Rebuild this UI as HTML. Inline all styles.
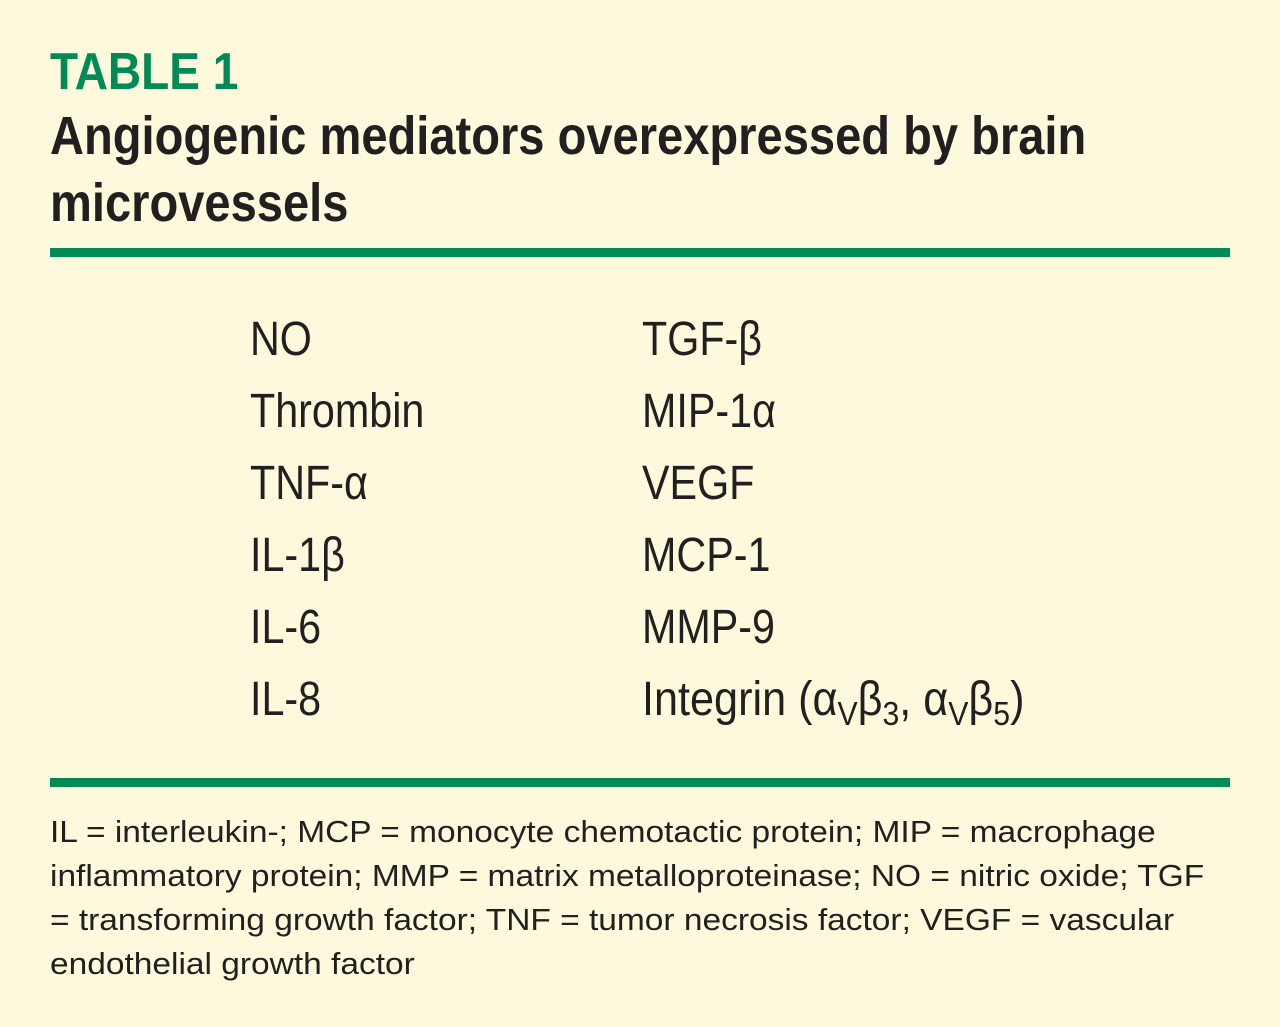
<!DOCTYPE html>
<html><head><meta charset="utf-8"><style>
html,body{margin:0;padding:0}
body{width:1280px;height:1027px;background:#fdf9dc;position:relative;overflow:hidden;font-family:"Liberation Sans",sans-serif;color:#231f20}
.t{position:absolute;white-space:nowrap;transform-origin:0 0;line-height:1}
.rule{position:absolute;left:50px;width:1180px;height:9px;background:#008a55}
.b{font-weight:bold}
sub{font-size:0.7em;vertical-align:-0.3em}
</style></head><body>
<div class="t b" style="left:50px;top:46px;font-size:52px;color:#008a55;transform:scaleX(0.885)">TABLE 1</div>
<div class="t b" style="left:50px;top:109px;font-size:54px;transform:scaleX(0.872)">Angiogenic mediators overexpressed by brain</div>
<div class="t b" style="left:50px;top:176px;font-size:54px;transform:scaleX(0.872)">microvessels</div>
<div class="rule" style="top:248px"></div>

<div class="t" style="left:250px;top:316px;font-size:48px;transform:scaleX(0.86)">NO</div>
<div class="t" style="left:250px;top:388px;font-size:48px;transform:scaleX(0.86)">Thrombin</div>
<div class="t" style="left:250px;top:460px;font-size:48px;transform:scaleX(0.86)">TNF-α</div>
<div class="t" style="left:250px;top:532px;font-size:48px;transform:scaleX(0.86)">IL-1β</div>
<div class="t" style="left:250px;top:604px;font-size:48px;transform:scaleX(0.86)">IL-6</div>
<div class="t" style="left:250px;top:676px;font-size:48px;transform:scaleX(0.86)">IL-8</div>

<div class="t" style="left:642px;top:316px;font-size:48px;transform:scaleX(0.86)">TGF-β</div>
<div class="t" style="left:642px;top:388px;font-size:48px;transform:scaleX(0.86)">MIP-1α</div>
<div class="t" style="left:642px;top:460px;font-size:48px;transform:scaleX(0.86)">VEGF</div>
<div class="t" style="left:642px;top:532px;font-size:48px;transform:scaleX(0.86)">MCP-1</div>
<div class="t" style="left:642px;top:604px;font-size:48px;transform:scaleX(0.86)">MMP-9</div>
<div class="t" style="left:642px;top:676px;font-size:48px;transform:scaleX(0.9)">Integrin (α<sub>V</sub>β<sub>3</sub>, α<sub>V</sub>β<sub>5</sub>)</div>

<div class="rule" style="top:778px"></div>

<div class="t" style="left:50px;top:816px;font-size:31px;transform:scaleX(1.08)">IL = interleukin-; MCP = monocyte chemotactic protein; MIP = macrophage</div>
<div class="t" style="left:50px;top:860px;font-size:31px;transform:scaleX(1.08)">inflammatory protein; MMP = matrix metalloproteinase; NO = nitric oxide; TGF</div>
<div class="t" style="left:50px;top:904px;font-size:31px;transform:scaleX(1.08)">= transforming growth factor; TNF = tumor necrosis factor; VEGF = vascular</div>
<div class="t" style="left:50px;top:948px;font-size:31px;transform:scaleX(1.08)">endothelial growth factor</div>
</body></html>
